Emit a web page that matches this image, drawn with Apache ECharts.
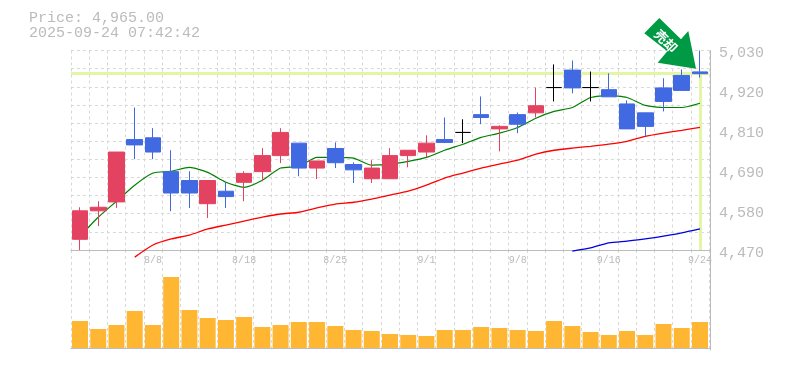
<!DOCTYPE html>
<html><head><meta charset="utf-8">
<style>html,body{margin:0;padding:0;background:#fff}#c{width:785px;height:370px}</style>
<script src="https://cdn.jsdelivr.net/npm/echarts@6/dist/echarts.min.js"></script>
</head><body><div id="c"></div>
<script>
const categories = ['8/4','8/5','8/6','8/7','8/8','8/12','8/13','8/14','8/15','8/18','8/19','8/20','8/21','8/22','8/25','8/26','8/27','8/28','8/29','9/1','9/2','9/3','9/4','9/5','9/8','9/9','9/10','9/11','9/12','9/16','9/17','9/18','9/19','9/22','9/24'];
const opens  = [4500,4580,4605,4780,4785,4690,4665,4600,4635,4660,4690,4735,4770,4700,4755,4710,4670,4670,4735,4745,4780,4800,4850,4810,4850,4855,4926,4975,4926,4920,4880,4855,4925,4960,4970];
const closes = [4580,4590,4745,4765,4745,4630,4630,4665,4620,4685,4735,4800,4700,4720,4715,4695,4700,4735,4750,4770,4772,4800,4842,4817,4823,4875,4926,4925,4926,4900,4810,4817,4887,4918,4965];
const lows   = [4470,4537,4588,4725,4725,4579,4588,4560,4588,4607,4663,4714,4677,4669,4700,4658,4658,4670,4702,4730,4770,4770,4823,4747,4798,4842,4887,4910,4887,4900,4810,4789,4859,4918,4954];
const highs  = [4590,4607,4745,4870,4812,4750,4691,4665,4660,4691,4756,4812,4770,4720,4772,4716,4722,4756,4750,4792,4842,4837,4901,4820,4856,4926,4991,5002,4971,4966,4890,4855,4952,4977,5030];
const maShort = [4509,4562,4607,4652,4686,4691,4702,4688,4660,4646,4666,4700,4705,4730,4730,4728,4708,4711,4719,4730,4750,4767,4786,4798,4814,4840,4859,4870,4898,4904,4898,4876,4870,4870,4882];
const maMid = [null,null,null,4450,4484,4501,4512,4529,4540,4551,4562,4571,4576,4588,4599,4604,4613,4624,4635,4652,4672,4686,4700,4711,4722,4739,4750,4756,4761,4767,4775,4789,4798,4806,4814];
const maLong = [null,null,null,null,null,null,null,null,null,null,null,null,null,null,null,null,null,null,null,null,null,null,null,null,null,null,null,4467,4476,4490,4495,4501,4509,4518,4529];
const volumes = [27,19,23,37,23,71,38,30,28,31,21,23,26,26,22,18,17,14,13,12,18,18,21,20,18,17,27,22,16,13,17,13,24,20,26];
const priceTickLabels = ['4,470','4,580','4,690','4,810','4,920','5,030'];
const dateTickLabels = ['8/8','8/18','8/25','9/1','9/8','9/16','9/24'];
const currentPrice = 4965;
const headerText = 'Price: 4,965.00\n2025-09-24 07:42:42';
const arrowText = '売却';

const GREY = '#bbbbbb', GRID = '#d8d8d8', LIME = '#e2f6a5', RED = '#e34361', BLUE = '#4169e1', MONO = '"Liberation Mono", monospace';
const dash = {color: GRID, type: [3, 3], width: 1};
const last = categories[categories.length - 1];
const candles = categories.map((_, i) => [opens[i], closes[i], lows[i], highs[i]]);
const maLine = (data, color, width) => ({type: 'line', xAxisIndex: 0, yAxisIndex: 0, data, showSymbol: false, symbol: 'none', smooth: 0.2, clip: false, z: 1, connectNulls: false, lineStyle: {color, width}, silent: true});

const chart = echarts.init(document.getElementById('c'), null, {renderer: 'canvas'});
chart.setOption({
  animation: false,
  backgroundColor: '#fff',
  title: {text: headerText, left: 29, top: 11, padding: 0, textStyle: {fontFamily: MONO, fontSize: 15, fontWeight: 'normal', color: GREY, lineHeight: 15}},
  grid: [
    {left: 70.9, top: 50.5, width: 638.2, height: 199.5},
    {left: 70.9, top: 250, width: 638.2, height: 100},
    {left: 70.9, top: 53.5, width: 638.2, height: 200}
  ],
  xAxis: [
    {type: 'category', gridIndex: 0, data: categories, boundaryGap: true,
     axisLine: {show: true, lineStyle: {color: GREY, width: 1}}, axisTick: {show: false},
     splitLine: {show: true, interval: 0, lineStyle: dash},
     axisLabel: {interval: (i, v) => dateTickLabels.includes(v), margin: 5, fontFamily: MONO, fontSize: 10, color: GREY}},
    {type: 'category', gridIndex: 1, data: categories, boundaryGap: true,
     axisLine: {show: true, lineStyle: {color: GREY, width: 1}}, axisTick: {show: false}, axisLabel: {show: false},
     splitLine: {show: true, interval: 0, lineStyle: dash}},
    {type: 'category', gridIndex: 2, data: categories, show: false}
  ],
  yAxis: [
    {type: 'value', gridIndex: 0, min: 4470, max: 5030, position: 'right', offset: 1,
     axisLine: {show: true, onZero: false, lineStyle: {color: GREY, width: 1}}, axisTick: {show: false}, axisLabel: {show: false}, splitLine: {show: false}},
    {type: 'value', gridIndex: 0, min: 0, max: 11, interval: 1, position: 'left',
     axisLine: {show: false}, axisTick: {show: false}, axisLabel: {show: false}, splitLine: {show: true, lineStyle: dash}},
    {type: 'value', gridIndex: 2, min: 0, max: 5, interval: 1, position: 'right', offset: 1,
     axisLine: {show: false}, axisTick: {show: false}, splitLine: {show: false},
     axisLabel: {margin: 9, fontFamily: MONO, fontSize: 15, color: GREY, formatter: (v) => priceTickLabels[v]}},
    {type: 'value', gridIndex: 1, min: -2, max: 98, position: 'right', offset: 1,
     axisLine: {show: true, onZero: false, lineStyle: {color: GREY, width: 1}}, axisTick: {show: false}, axisLabel: {show: false}, splitLine: {show: false}}
  ],
  series: [
    {type: 'candlestick', xAxisIndex: 0, yAxisIndex: 0, data: candles, barWidth: 16, z: 3, clip: false,
     itemStyle: {color: RED, color0: BLUE, borderColor: RED, borderColor0: BLUE, borderColorDoji: '#000', borderWidth: 1},
     markLine: {silent: true, symbol: 'none', z: 1, label: {show: false}, lineStyle: {color: LIME, width: 3, type: 'solid'}, emphasis: {disabled: true},
       data: [{yAxis: currentPrice}, [{coord: [last, currentPrice]}, {coord: [last, 4470]}]]}},
    maLine(maShort, '#008000', 1.2),
    maLine(maMid, '#ff0000', 1.3),
    maLine(maLong, '#0000e0', 1.3),
    {type: 'bar', xAxisIndex: 1, yAxisIndex: 3, data: volumes, barWidth: 16, itemStyle: {color: '#ffb733'}, silent: true}
  ],
  graphic: [
    {type: 'polygon', z: 50, shape: {points: [[659.3,18],[681,39.3],[688.3,31],[696,68.7],[657.7,62.7],[667.3,51.3],[644.3,33.3]]}, style: {fill: '#009944'}},
    {type: 'text', z: 51, x: 666, y: 41, rotation: -Math.PI / 4, style: {text: arrowText, fill: '#fff', fontSize: 13, fontWeight: 'bold', fontFamily: '"Noto Sans CJK JP"', align: 'center', verticalAlign: 'middle'}}
  ]
});
</script></body></html>
